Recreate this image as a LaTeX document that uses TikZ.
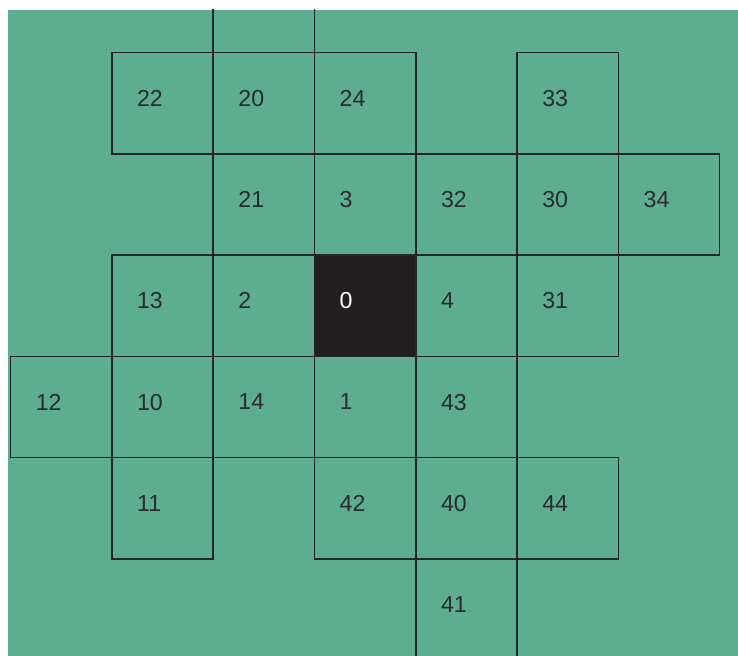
\documentclass[tikz,border=0pt]{standalone}
\usepackage{fontspec}
\setmainfont{Liberation Sans}
\definecolor{veld}{HTML}{5DAE91}
\definecolor{lijn}{HTML}{262626}
\definecolor{tekst}{HTML}{2B2B2B}
\definecolor{kern}{HTML}{231F20}
\begin{document}
\begin{tikzpicture}[
    cell/.style={draw=lijn, line width=0.9pt, minimum size=2cm, inner xsep=0.5cm, inner ysep=0pt,
                 text width=1cm, align=left, text depth=0.2cm, text=tekst,
                 font=\fontsize{13}{13}\selectfont}
  ]
  \useasboundingbox (-0.207,-11.915) rectangle (14.363,1.036);
  \fill[white] (-0.207,-11.915) rectangle (14.363,1.036);

  % --- ACHTERGROND ---
  \fill[veld] (-0.049,-11.915) rectangle (14.363,0.839);

  \begin{scope}
    \clip (-0.049,-11.915) rectangle (14.363,0.839);

    % Half zichtbaar vak boven
    \node[cell] (ctop) at (5,1) {};

    % Vakken (nummer/kolom/rij)
    \foreach \n/\c/\r in {22/1/0, 20/2/0, 24/3/0, 33/5/0,
                          21/2/1, 3/3/1, 32/4/1, 30/5/1, 34/6/1,
                          13/1/2, 2/2/2, 4/4/2, 31/5/2,
                          12/0/3, 10/1/3, 14/2/3, 1/3/3, 43/4/3,
                          11/1/4, 42/3/4, 40/4/4, 44/5/4,
                          41/4/5} {
      \node[cell] (c\n) at ({2*\c+1},{-2*\r-1}) {\n};
    }

    % Middelste vak
    \node[cell, fill=kern, text=white] (c0) at (7,-5) {0};
  \end{scope}
\end{tikzpicture}
\end{document}
